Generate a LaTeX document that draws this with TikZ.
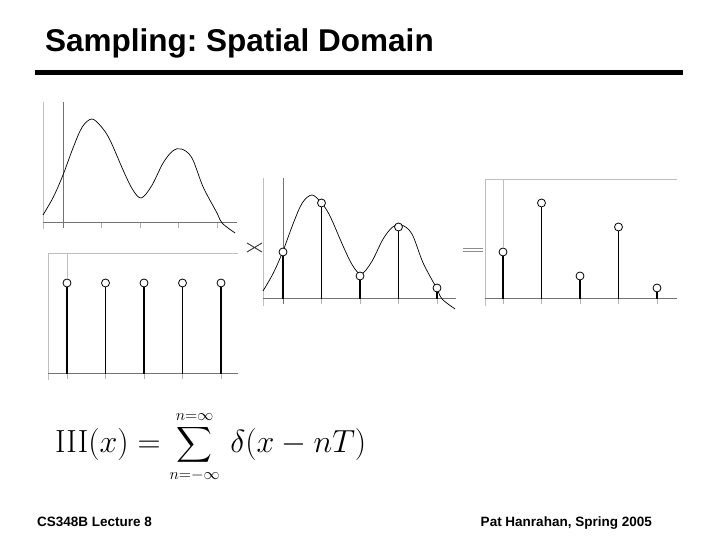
\RequirePackage{fix-cm}
\documentclass[tikz,border=0pt]{standalone}
\usepackage{amsmath}
\usepackage[no-math]{fontspec}
\newfontfamily\slidefont{Liberation Sans}

\begin{document}
\begin{tikzpicture}[x=1pt,y=1pt,
    frameline/.style={black!25,line width=0.8pt},
    axisline/.style={black!55,line width=1pt},
    tickline/.style={black!30,line width=0.7pt},
    curveline/.style={black,line width=0.7pt},
    stemline/.style={black,line width=1.2pt},
    sample/.style={circle,draw=black,fill=white,line width=0.8pt,inner sep=0pt,minimum size=8pt},
    signal/.pic={
        \draw[curveline] plot[smooth,tension=0.55] coordinates {(-0.52,8) (-0.25,26) (0,48) (0.27,76) (0.5,96) (0.75,104) (1,96) (1.22,83) (1.56,53) (1.8,34) (2.03,25) (2.3,37) (2.6,60) (2.85,72) (3.08,74) (3.35,65) (3.64,36) (4,10) (4.13,0) (4.47,-10)};
    }]
    \useasboundingbox (0,0) rectangle (720,540);
    \node[anchor=base west,inner sep=0pt,font=\slidefont\bfseries\fontsize{31.5}{36}\selectfont\frenchspacing] (title) at (45,488) {Sampling: Spatial Domain};
    \draw[line width=5pt] (35,467.5) -- (683,467.5);

    \begin{scope}[shift={(63,317)},x=38.5pt]
        \draw[frameline] (-0.52,121) -- (-0.52,-6);
        \draw[axisline] (0,121) -- (0,-5);
        \draw[axisline] (-0.52,0) -- (4.52,0);
        \draw[tickline] (1,0) -- (1,-5);
        \draw[tickline] (2,0) -- (2,-5);
        \draw[tickline] (3,0) -- (3,-5);
        \draw[tickline] (4,0) -- (4,-5);
        \pic {signal};
    \end{scope}

    \begin{scope}[shift={(67,166)},x=38.5pt]
        \draw[frameline] (4.44,121) -- (-0.49,121) -- (-0.49,-6);
        \draw[axisline] (-0.49,0) -- (4.44,0);
        \node[sample] (t0) at (0,91) {};
        \node[sample] (t1) at (1,91) {};
        \node[sample] (t2) at (2,91) {};
        \node[sample] (t3) at (3,91) {};
        \node[sample] (t4) at (4,91) {};
        \draw[frameline] (0,121) -- (t0.north);
        \draw[tickline] (0,0) -- (0,-5);
        \draw[tickline] (1,0) -- (1,-5);
        \draw[tickline] (2,0) -- (2,-5);
        \draw[tickline] (3,0) -- (3,-5);
        \draw[tickline] (4,0) -- (4,-5);
        \draw[stemline] (0,0) -- (t0.south);
        \draw[stemline] (1,0) -- (t1.south);
        \draw[stemline] (2,0) -- (t2.south);
        \draw[stemline] (3,0) -- (t3.south);
        \draw[stemline] (4,0) -- (t4.south);
    \end{scope}

    \draw[black!75,line width=1pt] (247,297) -- (262,288) (247,288) -- (262,297);

    \begin{scope}[shift={(283,241)},x=38.5pt]
        \draw[frameline] (-0.52,121) -- (-0.52,-7);
        \draw[axisline] (0,121) -- (0,-5);
        \draw[axisline] (-0.52,0) -- (4.5,0);
        \draw[tickline] (1,0) -- (1,-5);
        \draw[tickline] (2,0) -- (2,-5);
        \draw[tickline] (3,0) -- (3,-5);
        \draw[tickline] (4,0) -- (4,-5);
        \pic {signal};
        \node[sample] (m0) at (0,47) {};
        \node[sample] (m1) at (1,96) {};
        \node[sample] (m2) at (2,23) {};
        \node[sample] (m3) at (3,72) {};
        \node[sample] (m4) at (4,11) {};
        \draw[stemline] (0,0) -- (m0.south);
        \draw[stemline] (1,0) -- (m1.south);
        \draw[stemline] (2,0) -- (m2.south);
        \draw[stemline] (3,0) -- (m3.south);
        \draw[stemline] (4,0) -- (m4.south);
    \end{scope}

    \draw[black!45,line width=0.8pt] (463,292) -- (483,292) (463,289) -- (483,289);

    \begin{scope}[shift={(503,241)},x=38.5pt]
        \draw[frameline] (4.52,120) -- (-0.47,120) -- (-0.47,-7);
        \draw[axisline] (-0.47,0) -- (4.52,0);
        \node[sample] (r0) at (0,47) {};
        \node[sample] (r1) at (1,96) {};
        \node[sample] (r2) at (2,23) {};
        \node[sample] (r3) at (3,72) {};
        \node[sample] (r4) at (4,11) {};
        \draw[frameline] (0,120) -- (r0.north);
        \draw[tickline] (0,0) -- (0,-5);
        \draw[tickline] (1,0) -- (1,-5);
        \draw[tickline] (2,0) -- (2,-5);
        \draw[tickline] (3,0) -- (3,-5);
        \draw[tickline] (4,0) -- (4,-5);
        \draw[stemline] (0,0) -- (r0.south);
        \draw[stemline] (1,0) -- (r1.south);
        \draw[stemline] (2,0) -- (r2.south);
        \draw[stemline] (3,0) -- (r3.south);
        \draw[stemline] (4,0) -- (r4.south);
    \end{scope}

    \node[anchor=base west,inner sep=0pt,font=\fontsize{32}{38}\selectfont] (shah) at (55,87)
        {$\displaystyle \mathrm{III}(x)=\sum_{\scriptscriptstyle n=-\infty}^{\scriptscriptstyle n=\infty}\,\delta(x-nT)$};
    \node[anchor=base west,inner sep=0pt,font=\slidefont\bfseries\fontsize{13.5}{16}\selectfont] (lecture) at (37,13) {CS348B Lecture 8};
    \node[anchor=base east,inner sep=0pt,font=\slidefont\bfseries\fontsize{13.5}{16}\selectfont] (author) at (652,13) {Pat Hanrahan, Spring 2005};
\end{tikzpicture}
\end{document}
